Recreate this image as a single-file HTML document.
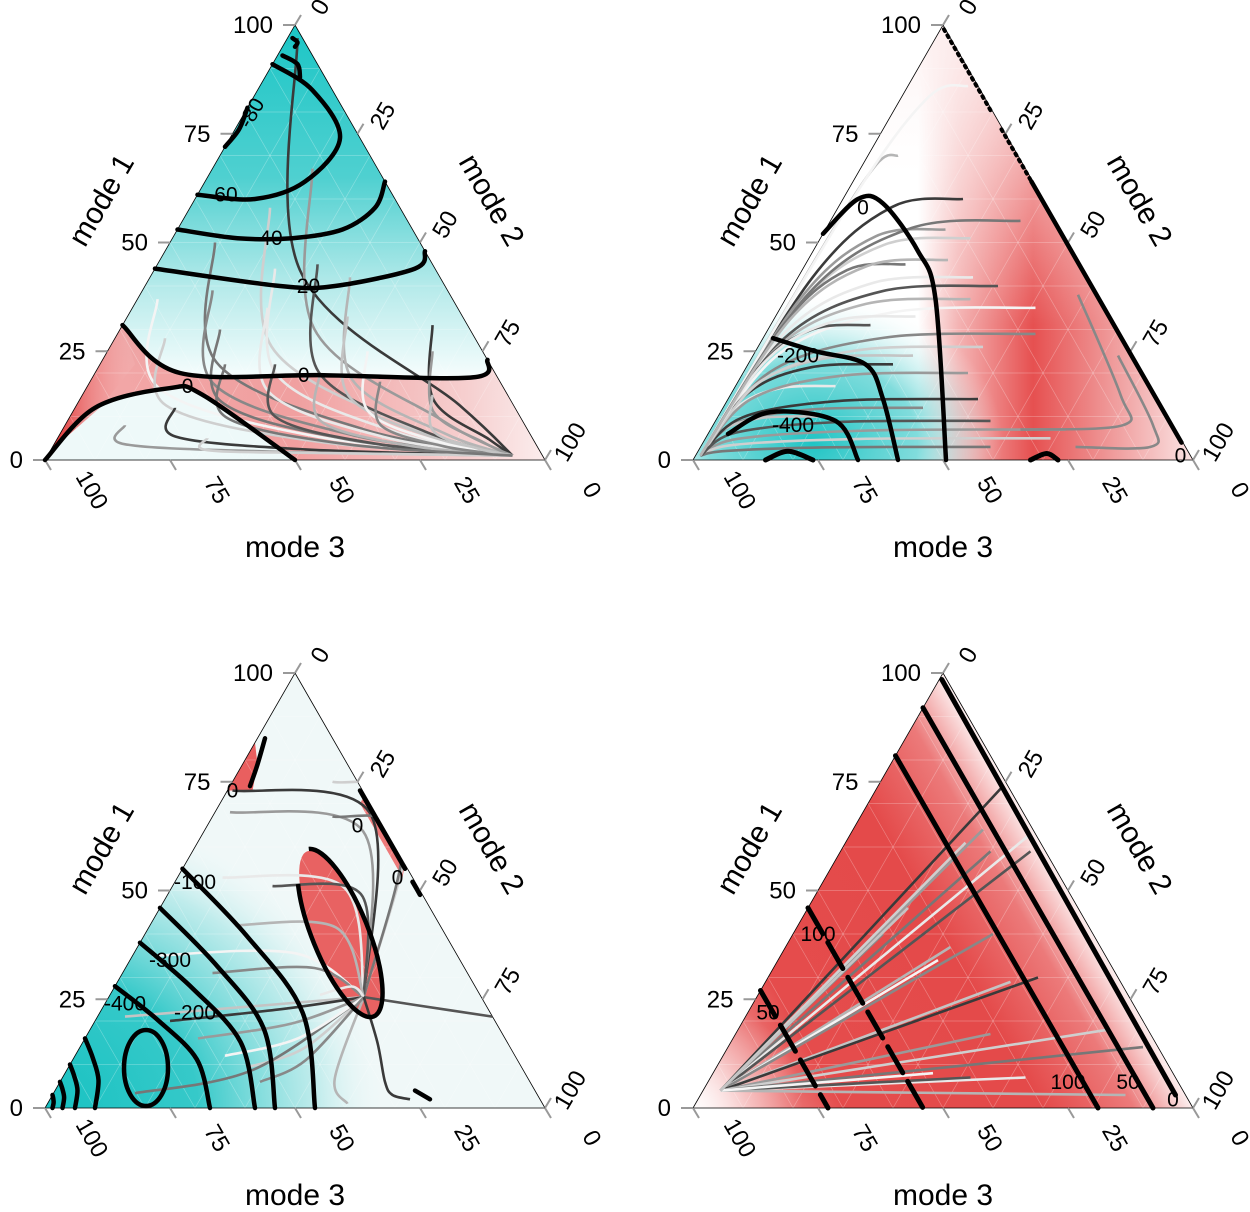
<!DOCTYPE html>
<html><head><meta charset="utf-8">
<style>
html,body{margin:0;padding:0;background:#fff;overflow:hidden;width:1250px;height:1212px}
svg{display:block}
text{font-family:"Liberation Sans",sans-serif}
</style></head>
<body>
<svg id="chart" width="1250" height="1212" viewBox="0 0 1250 1212" xmlns="http://www.w3.org/2000/svg">
<defs>
 <linearGradient id="g1" gradientUnits="userSpaceOnUse" x1="0" y1="25" x2="0" y2="460">
  <stop offset="0" stop-color="#1cc6c6"/><stop offset="0.35" stop-color="#4fd0d0"/><stop offset="0.6" stop-color="#b5eaea"/><stop offset="0.8" stop-color="#f3fcfc"/><stop offset="1" stop-color="#ffffff"/>
 </linearGradient>
 <linearGradient id="g1red" x1="0" y1="0" x2="1" y2="0">
  <stop offset="0" stop-color="#f29a9a"/><stop offset="0.5" stop-color="#ef8f8f"/><stop offset="0.85" stop-color="#f6c8c8"/><stop offset="1" stop-color="#fbeaea"/>
 </linearGradient>
 <linearGradient id="g1wedge" x1="0" y1="0" x2="1" y2="0">
  <stop offset="0" stop-color="#e02a2a"/><stop offset="1" stop-color="#f6c0c0" stop-opacity="0.2"/>
 </linearGradient>
 <radialGradient id="rcyan2" cx="0.5" cy="0.5" r="0.5"><stop offset="0" stop-color="#1fc4c4"/><stop offset="0.55" stop-color="#6ad6d6" stop-opacity="0.85"/><stop offset="1" stop-color="#fff" stop-opacity="0"/></radialGradient>
 <radialGradient id="rcyan3" cx="0.5" cy="0.5" r="0.5"><stop offset="0" stop-color="#18c2c2"/><stop offset="0.45" stop-color="#36c9c9"/><stop offset="0.8" stop-color="#b4e9e9" stop-opacity="0.8"/><stop offset="1" stop-color="#eef8f8" stop-opacity="0"/></radialGradient>
 <radialGradient id="rwhite" cx="0.5" cy="0.5" r="0.5"><stop offset="0" stop-color="#fff" stop-opacity="0.9"/><stop offset="1" stop-color="#fff" stop-opacity="0"/></radialGradient>
 <linearGradient id="g2" gradientUnits="userSpaceOnUse" x1="693" y1="0" x2="1193" y2="0">
  <stop offset="0" stop-color="#ffffff"/><stop offset="0.45" stop-color="#ffffff"/><stop offset="0.53" stop-color="#f4b4b4"/><stop offset="0.68" stop-color="#e65050"/><stop offset="0.85" stop-color="#f0a0a0"/><stop offset="1" stop-color="#fbe4e4"/>
 </linearGradient>
 <linearGradient id="g2top" x1="0" y1="0" x2="0" y2="1">
  <stop offset="0" stop-color="#fdf0f0" stop-opacity="0.95"/><stop offset="0.5" stop-color="#fff" stop-opacity="0.45"/><stop offset="1" stop-color="#fff" stop-opacity="0"/>
 </linearGradient>
 <linearGradient id="g4" gradientUnits="userSpaceOnUse" x1="1068" y1="890" x2="693" y2="1107">
  <stop offset="0" stop-color="#fdf0f0"/><stop offset="0.05" stop-color="#f6c0c0"/><stop offset="0.12" stop-color="#ec7a7a"/><stop offset="0.3" stop-color="#e44a4a"/><stop offset="0.7" stop-color="#e54c4c"/><stop offset="0.88" stop-color="#ef9090"/><stop offset="1" stop-color="#fbe6e6"/>
 </linearGradient>
</defs>
</svg>
<script>
// ---------------- data ----------------
const tickValues=[0,25,50,75,100];
const axisTitles=["mode 1","mode 2","mode 3"];
// panel 1 contours: [m1,m2]
const p1Levels=["-60","-40","-20","0","0"];
const p1Contours=[
 [[91,0],[85,11],[74,22],[64,20],[60,12],[61,0]],
 [[53,0],[51,13],[51,24],[53,33],[58,37],[64,36]],
 [[44,0],[40,27],[40,38],[44,52],[48,52]],
 [[31,0],[20,17],[19.5,46],[19,76],[23,77]],
 [[0,0],[12,4],[16.5,16.6],[15,24],[0,50]]
];
const p1Small=[[[97,1],[96,2.5],[95,2.5]],[[93,1],[91,5],[88,7]],[[72,0],[76,0.8],[81,0]]];
const p1LabelAt=[[61,5],[51,19],[40,32],[19.5,42],[17,20]];
const p1Starts=[[97,2],[67,20],[58,16],[50,9],[44,24],[45,32],[42,40],[37,4],[39,14],[33,44],[31,62],[25,65],[28,10],[30,20],[35,27],[22,35],[20,45],[25,52],[18,58],[15,70],[12,20],[8,12],[5,30],[22,25]];
const p1Sink=[1,93];
// panel 2
const p2Levels=["0","-200","-400"];
const p2Contours=[
 [[52,0],[60,3],[59,8.5],[48,21],[37,30],[0,50.6]],
 [[28,2],[25,12],[22,23.5],[14,31],[0,41]],
 [[6,4],[11,10],[9,24],[0,33]]
];
const p2LabelAt=[[58,5],[24,9],[8,16]];
const p2Ends=[[60,24],[53,24],[51,30],[55,38],[42,35],[40,41],[37,37],[35,51],[29,54],[24,32],[22,29],[7,71],[5,69],[3,58],[17,20],[31,20],[70,6],[86,12],[12,40],[10,20],[14,50],[20,45],[26,45],[45,20],[33,28],[9,55],[46,28]];
const p2Start=[1,1];
// panel 3
const p3Levels=["-400","-300","-200","-100"];
const p3LeftM1=[55,46,38,28,16,10,6,3];
const p3BottomM2=[54,46,42,33,10,6,3.5,1.5];
const p3Starts=[[73,1],[68,3],[75,20],[67,24],[53,9],[51,20],[42,17],[35,4],[31,18],[21,5.5],[20,15],[16,22.6],[9.4,36],[3.4,16.3],[26,42],[21,79],[1,60],[12,30],[6,40]];
const p3Sink=[25.5,51];
// panel 4
const p4Levels=["50","100","100","50","0"];
const p4Contours=[
 [[27,0],[0,27]],
 [[46,0],[0,46]],
 [[81,0],[0,81]],
 [[92,0],[0,92]],
 [[98.5,0.5],[3,95]]
];
const p4LabelAt=[[22,4],[40,5],[6,72],[6,84],[2,95]];
const p4Ends=[[74,25],[64,26],[61,24],[59,30],[63,36],[59,38],[37,33],[34,32],[40,40],[29,49],[30,54],[17,51],[18,74],[14,83],[7,63],[7,52],[3,85],[8,44],[40,18],[46,20]];
const p4Start=[4,3.5];
const grays=["#3a3a3a","#9a9a9a","#cfcfcf","#777","#e9e9e9","#555","#b5b5b5","#f4f4f4","#888","#c4c4c4"];

// ---------------- drawing ----------------
const NS="http://www.w3.org/2000/svg";
const svg=document.getElementById('chart');
function el(tag,attrs,parent){const e=document.createElementNS(NS,tag);for(const k in attrs)e.setAttribute(k,attrs[k]);(parent||svg).appendChild(e);return e;}
function mk(ox,oy){const L=ox+45,B=oy+460;return (m1,m2)=>[L+5*m2+2.5*m1,B-4.35*m1];}
function smooth(pts){let d="M"+pts[0][0].toFixed(1)+","+pts[0][1].toFixed(1);
 for(let i=0;i<pts.length-1;i++){const p0=pts[i-1]||pts[i],p1=pts[i],p2=pts[i+1],p3=pts[i+2]||p2;
  const c1=[p1[0]+(p2[0]-p0[0])/6,p1[1]+(p2[1]-p0[1])/6],c2=[p2[0]-(p3[0]-p1[0])/6,p2[1]-(p3[1]-p1[1])/6];
  d+=" C"+c1.map(v=>v.toFixed(1))+" "+c2.map(v=>v.toFixed(1))+" "+p2.map(v=>v.toFixed(1));}
 return d;}
function panel(idx,ox,oy,fill,extras){
 const P=mk(ox,oy);const g=el('g',{});
 
 
 const A=P(100,0),BR=P(0,100),BL=P(0,0);
 const tri=A+" "+BR+" "+BL;
 const cp=el('clipPath',{id:'clip'+idx},g);el('polygon',{points:tri},cp);
 const bg=el('g',{'clip-path':'url(#clip'+idx+')'},g);
 
 
 el('polygon',{points:tri,fill:fill},bg);
 extras(bg,P);
 const grid=el('g',{stroke:'#ffffff','stroke-opacity':'0.3','stroke-width':'0.7'},bg);
 for(let v=10;v<100;v+=10){let a=P(v,0),b=P(v,100-v);el('line',{x1:a[0],y1:a[1],x2:b[0],y2:b[1]},grid);
  a=P(0,v);b=P(100-v,v);el('line',{x1:a[0],y1:a[1],x2:b[0],y2:b[1]},grid);
  a=P(0,v);b=P(v,0);el('line',{x1:a[0],y1:a[1],x2:b[0],y2:b[1]},grid);}
 const border=el('polygon',{points:tri,fill:'none',stroke:'#000','stroke-width':'0.8'},g);
 
 
 tickValues.forEach(v=>{
  let p=P(v,0);
  el('line',{x1:p[0],y1:p[1],x2:p[0]-12,y2:p[1],stroke:'#999','stroke-width':2},g);
  const t=el('text',{x:p[0]-22,y:p[1]+8,'text-anchor':'end','font-size':24},g);t.textContent=v;
  
  
  p=P(100-v,v);
  el('line',{x1:p[0],y1:p[1],x2:p[0]+6,y2:p[1]-10,stroke:'#999','stroke-width':2},g);
  const t2=el('text',{x:0,y:0,'text-anchor':'middle','font-size':24,transform:`translate(${p[0]+32},${p[1]-14}) rotate(-60)`},g);t2.textContent=v;
  
  
  p=P(0,100-v);
  el('line',{x1:p[0],y1:p[1],x2:p[0]+6,y2:p[1]+10,stroke:'#999','stroke-width':2},g);
  const t3=el('text',{x:0,y:0,'text-anchor':'middle','font-size':24,transform:`translate(${p[0]+40},${p[1]+34}) rotate(60)`},g);t3.textContent=v;
  
  
 });
 const t1=el('text',{'text-anchor':'middle','font-size':30,transform:`translate(${ox+110},${oy+205}) rotate(-60)`},g);t1.textContent=axisTitles[0];
 
 const t2=el('text',{'text-anchor':'middle','font-size':30,transform:`translate(${ox+483},${oy+205}) rotate(60)`},g);t2.textContent=axisTitles[1];
 
 const t3=el('text',{x:ox+295,y:oy+557,'text-anchor':'middle','font-size':30},g);t3.textContent=axisTitles[2];
 
 return {g,P,bg};
}
function traj(g,pts,i,name,col){const p=el('path',{d:smooth(pts),fill:'none',stroke:col||grays[i%grays.length],'stroke-width':2.6},g);
 }
function contour(g,pts,name,w,dash){const a={d:smooth(pts),fill:'none',stroke:'#000','stroke-width':w||4.5,'stroke-linecap':'round'};if(dash)a['stroke-dasharray']=dash;
 const p=el('path',a,g);
 }
function clabel(g,pt,txt){const t=el('text',{x:pt[0],y:pt[1]+7,'text-anchor':'middle','font-size':21},g);t.textContent=txt;
 }

// Panel 1
(function(){const {g,P}=panel(1,0,0,'url(#g1)',(b,P)=>{
  const up=p1Contours[3].map(p=>P(...p));
  let d=smooth(up)+" L"+P(0,100)+" L"+P(0,0)+" Z";
  el('path',{d:d,fill:'url(#g1red)',opacity:0.85},b);
  const lo=p1Contours[4].map(p=>P(...p));
  el('path',{d:smooth(lo)+" Z",fill:'#eef9f9'},b);
  el('polygon',{points:[P(31,0),P(22,7),P(12,5),P(2,0)].join(' '),fill:'url(#g1wedge)'},b);
 });
 const tg=el('g',{'clip-path':'url(#clip1)'},g);
 p1Starts.forEach((s,i)=>{const e=p1Sink;
  traj(tg,[P(...s),P(s[0]*0.45,s[1]+s[0]*0.28),P(s[0]*0.12+1,s[1]+s[0]*0.44+(e[1]-s[1])*0.35),P(...e)],i,'trajectory');});
 p1Contours.forEach((c,i)=>contour(g,c.map(p=>P(...p)),'contour-'+p1Levels[i]));
 p1Small.forEach(c=>contour(g,c.map(p=>P(...p)),'contour-small',4.5));
 p1Levels.forEach((l,i)=>clabel(g,P(...p1LabelAt[i]),l));
 const t=el('text',{'font-size':21,'text-anchor':'middle',transform:`translate(${P(79,3)[0]},${P(79,3)[1]}) rotate(-60)`},g);t.textContent="-80";
 
})();
// Panel 2
(function(){const {g,P}=panel(2,648,0,'url(#g2)',(b,P)=>{
  let c=P(4,22);el('ellipse',{cx:c[0],cy:c[1],rx:190,ry:150,fill:'url(#rcyan2)'},b);
  el('rect',{x:693,y:25,width:500,height:300,fill:'url(#g2top)'},b);
 });
 const tg=el('g',{'clip-path':'url(#clip2)'},g);
 p2Ends.forEach((e,i)=>{const s=p2Start;
  traj(tg,[P(...s),P(e[0]*0.7,e[1]*0.08+1),P(e[0]*0.97,e[1]*0.45),P(...e)],i,'trajectory');});
 traj(tg,[P(38,58),P(15,78),P(8,82),P(7,62)],8,'trajectory');
 traj(tg,[P(24,73),P(8,88),P(3,90),P(3,75)],8,'trajectory');
 p2Contours.forEach((c,i)=>contour(g,c.map(p=>P(...p)),'contour-'+p2Levels[i]));
 contour(g,[P(64,35.7),P(35,64.7),P(4,95.7)],'contour-0-right',4.5);
 contour(g,[P(99,0.7),P(80,19.7)],'contour-0-dotted',4,'2 5');
 contour(g,[P(76,23.7),P(64,35.7)],'contour-0-dotted',4,'2 5');
 contour(g,[P(0,14.5),P(2,18),P(0,24)],'contour-small',5);
 contour(g,[P(0,67.5),P(1.5,70),P(0,73)],'contour-small',5);
 p2Levels.forEach((l,i)=>clabel(g,P(...p2LabelAt[i]),l));
 clabel(g,P(1,97),"0");
})();
// Panel 3
(function(){const {g,P}=panel(3,0,648,'#f0f8f8',(b,P)=>{
  let c=P(0,0);el('ellipse',{cx:c[0],cy:c[1],rx:340,ry:300,fill:'url(#rcyan3)'},b);
  el('ellipse',{cx:340,cy:648+285,rx:26,ry:88,fill:'#e63c3c',opacity:0.8,transform:`rotate(-22 340 ${648+285})`},b);
  el('polygon',{points:[P(84,0),P(79,3),P(73,5),P(73,0)].join(' '),fill:'#e84444',opacity:0.85},b);
  el('polygon',{points:[P(72,28),P(56,44),P(53,45),P(70,28)].join(' '),fill:'#ec5a5a',opacity:0.8},b);
 });
 const tg=el('g',{'clip-path':'url(#clip3)'},g);
 p3LeftM1.forEach((m,i)=>{const n=p3BottomM2[i];
  contour(g,[P(m,0),P(m*0.72,n*0.38),P(m*0.4,n*0.75),P(0,n)],'contour-arc');});
 p3Starts.forEach((s,i)=>{const e=p3Sink;
  traj(tg,[P(...s),P(s[0]+(e[0]-s[0])*0.15+2,s[1]+(e[1]-s[1])*0.6),P(...e)],i,'trajectory');});
 traj(tg,[P(...p3Sink),P(15,59),P(6,65),P(3,68),P(2,72)],0,'trajectory');
 const el1=el('ellipse',{cx:146,cy:648+420,rx:22,ry:38,fill:'none',stroke:'#000','stroke-width':4.5},g);
 
 const e2=el('ellipse',{cx:340,cy:648+285,rx:28,ry:90,fill:'none',stroke:'#000','stroke-width':4.5,'stroke-dasharray':'260 40 200 60',transform:`rotate(-22 340 ${648+285})`},g);
 
 contour(g,[P(85,1.5),P(79,3),P(74,4)],'contour-0-top',4.5);
 contour(g,[P(73,26.5),P(62,37.5),P(55,44.5)],'contour-0-right',4.5);
 contour(g,[P(52,47.5),P(49,50.5)],'contour-0-right',4.5);
 contour(g,[P(4,72),P(2,76)],'contour-0-bottom',4.5);
 [[24,4],[34,8],[22,19],[52,4]].forEach((p,i)=>clabel(g,P(...p),p3Levels[i]));
 clabel(g,P(73,1),"0");clabel(g,P(65,30),"0");clabel(g,P(53,44),"0");
})();
// Panel 4
(function(){const {g,P}=panel(4,648,648,'url(#g4)',(b,P)=>{
  let c=P(0,0);el('circle',{cx:c[0],cy:c[1],r:110,fill:'url(#rwhite)'},b);
 });
 const tg=el('g',{'clip-path':'url(#clip4)'},g);
 p4Ends.forEach((e,i)=>{const s=p4Start;
  traj(tg,[P(...s),P(...e)],i,'trajectory');});
 p4Contours.forEach((c,i)=>contour(g,c.map(p=>P(...p)),'contour-'+p4Levels[i],5,i<2?'30 10':null));
 p4Levels.forEach((l,i)=>clabel(g,P(...p4LabelAt[i]),l));
})();
</script>
</body></html>
